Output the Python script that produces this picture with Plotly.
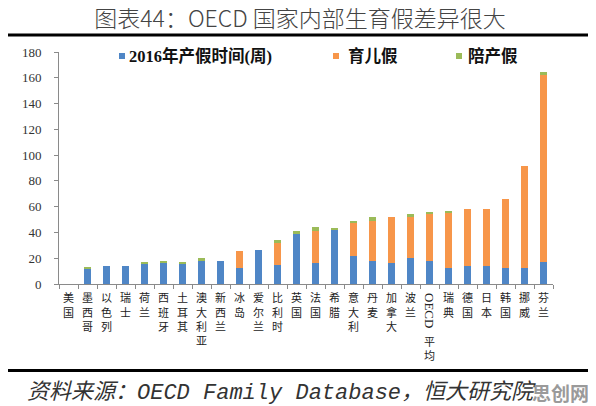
import plotly.graph_objects as go

# categories and the three leave components (weeks)
countries = ["美国", "墨西哥", "以色列", "瑞士", "荷兰", "西班牙", "土耳其", "澳大利亚",
             "新西兰", "冰岛", "爱尔兰", "比利时", "英国", "法国", "希腊", "意大利",
             "丹麦", "加拿大", "波兰", "OECD平均", "瑞典", "德国", "日本", "韩国",
             "挪威", "芬兰"]
maternity = [0, 12, 14, 14, 16, 16, 16, 17.7, 18, 12.5, 26, 14.7, 38.6, 16, 42.5,
             21.5, 17.7, 16.5, 19.8, 17.7, 12.8, 13.6, 13.6, 12.8, 12.8, 17.4]
parental = [0, 0, 0, 0, 0, 0, 0, 0, 0, 13.2, 0, 17.5, 0, 25.4, 0,
            25.9, 31.5, 35.3, 32, 37.2, 42.4, 44.9, 44.9, 52.9, 78.7, 144.5]
paternity = [0, 0.8, 0, 0, 0.4, 2, 0.8, 2.2, 0, 0, 0, 2, 2.3, 3, 0.7,
             1, 2.5, 0, 2.3, 0.8, 1.7, 0, 0, 0, 0, 2.6]
series_names = ["2016年产假时间(周)", "育儿假", "陪产假"]
y_ticks = [0, 20, 40, 60, 80, 100, 120, 140, 160, 180]

colors = ["#4F86C6", "#F7964A", "#9BBB59"]
cjk = "Noto Sans CJK SC"
serif = "Liberation Serif, Noto Sans CJK SC"

# vertical (stacked-character) tick labels; OECD平均 drawn separately
ticktext = ["" if c.startswith("OECD") else "<br>".join(c) for c in countries]

fig = go.Figure()
for name, vals, col in zip(series_names, [maternity, parental, paternity], colors):
    fig.add_trace(go.Bar(x=countries, y=vals, name=name, marker_color=col,
                         marker_line_width=0, showlegend=False))

# page has an 8px body margin, so the figure is 8px smaller and the
# plot area sits at window px x 59..553, y 52..284
OFF = 8
FW, FH = 596 - OFF, 406 - OFF
L, R, T, B = 59 - OFF, 43, 52 - OFF, 122
W, H = FW - L - R, FH - T - B
px = lambda p: (p - 59) / W
py = lambda q: (284 - q) / H

axis_col = "#8a8a8a"
fig.update_layout(
    width=FW, height=FH,
    margin=dict(l=L, r=R, t=T, b=B),
    paper_bgcolor="white", plot_bgcolor="white",
    barmode="stack", bargap=0.64,
    title=dict(text="图表44：OECD 国家内部生育假差异很大",
               font=dict(family=cjk, size=23, color="#444", weight=300),
               x=(300 - OFF) / FW, xanchor="center", y=1 - (19 - OFF) / FH, yanchor="middle",
               xref="container", yref="container"),
    xaxis=dict(type="category", tickmode="array", tickvals=countries, ticktext=ticktext,
               tickangle=0, tickson="boundaries", ticks="outside", ticklen=4,
               tickcolor=axis_col, showline=True, linecolor=axis_col, linewidth=1,
               showgrid=False, automargin=False, ticklabelstandoff=4,
               tickfont=dict(family=cjk, size=11, color="#222")),
    yaxis=dict(range=[0, 180], tickvals=y_ticks, ticks="outside", ticklen=4,
               tickcolor=axis_col, showline=True, linecolor=axis_col, linewidth=1,
               showgrid=False, zeroline=False, automargin=False, ticklabelstandoff=10,
               tickfont=dict(family=serif, size=13, color="#333")),
)

# legend (squares + bold labels)
legend_sq = [119, 333, 456]
legend_tx = [127, 346, 466]
for name, col, sx, tx in zip(series_names, colors, legend_sq, legend_tx):
    fig.add_shape(type="rect", xref="paper", yref="paper",
                  x0=px(sx), x1=px(sx + 6), y0=py(59), y1=py(53),
                  fillcolor=col, line_width=0)
    fig.add_annotation(text="<b>" + name + "</b>", xref="paper", yref="paper",
                       x=px(tx), y=py(56), xanchor="left", yanchor="middle",
                       showarrow=False, font=dict(family=serif, size=16.5, color="#111"))

# OECD平均 label: rotated latin + upright CJK
fig.add_annotation(text="OECD", textangle=90, xref="x", yref="paper", x="OECD平均",
                   y=py(291), yanchor="top", showarrow=False,
                   font=dict(family="Liberation Serif", size=13, color="#222"))
fig.add_annotation(text="平<br>均", xref="x", yref="paper", x="OECD平均",
                   y=py(331), yanchor="top", showarrow=False,
                   font=dict(family=cjk, size=11, color="#222"))

# heavy rules above and below the chart
for yy in [35, 370.5]:
    fig.add_shape(type="line", xref="paper", yref="paper",
                  x0=px(7.5), x1=px(589), y0=py(yy), y1=py(yy),
                  line=dict(color="black", width=3))

fig.add_annotation(text="<i>资料来源：OECD Family Database，恒大研究院</i>",
                   xref="paper", yref="paper", x=px(25), y=py(393),
                   xanchor="left", yanchor="middle", showarrow=False,
                   font=dict(family="Liberation Mono, Noto Sans CJK SC", size=22, color="#333"))
fig.add_annotation(text="<b>思创网</b>", xref="paper", yref="paper", x=px(560), y=py(392),
                   xanchor="center", yanchor="middle", showarrow=False,
                   font=dict(family=cjk, size=19, color="#9a9a9a"))

fig.write_html("out.html")
